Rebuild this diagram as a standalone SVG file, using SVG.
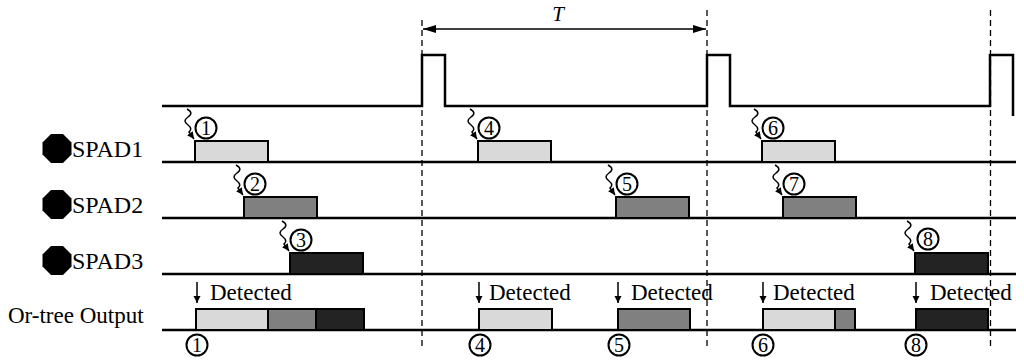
<svg xmlns="http://www.w3.org/2000/svg" xmlns:xlink="http://www.w3.org/1999/xlink" width="1024" height="362" viewBox="0 0 1024 362">
<style>
.ln{stroke:#000;stroke-width:2.5;fill:none}
.dash{stroke:#000;stroke-width:1.3;stroke-dasharray:6 4;fill:none}
.box{stroke:#000;stroke-width:2}
.l{fill:#d9d9d9}.m{fill:#808080}.d{fill:#232323}
.lbl{font-family:"Liberation Serif","Times New Roman",serif;font-size:23px;fill:#000}
.sp{font-size:24px}
.num{font-family:"Liberation Serif","Times New Roman",serif;font-size:20px;fill:#000;text-anchor:middle}
.cir{fill:#fff;stroke:#000;stroke-width:2}
.thin{stroke:#000;stroke-width:1.5;fill:none}
</style>
<defs>
<marker id="ah" markerWidth="8" markerHeight="8" refX="7" refY="4" orient="auto" markerUnits="userSpaceOnUse"><path d="M0,0.5 L7,4 L0,7.5 Z" fill="#000"/></marker>
<marker id="ahT" markerWidth="14" markerHeight="10" refX="13" refY="5" orient="auto-start-reverse" markerUnits="userSpaceOnUse"><path d="M0,1 L13,5 L0,9 Z" fill="#000"/></marker>
<path id="sq" d="M-8,-32 c5,3 5,5 1,8 c-4,3 -4,5 0,8 c4,3 3,5 1,7 L-1,-2" class="thin" marker-end="url(#ah)"/>
<polygon id="oct" points="6,14.5 -6,14.5 -14.5,6 -14.5,-6 -6,-14.5 6,-14.5 14.5,-6 14.5,6" fill="#000"/>
</defs>

<g id="clock">
<path class="ln" d="M162,106 H422 V55 H445 V106 H707 V55 H730 V106 H990 V55 H1013 V116"/>
</g>

<g id="period">
<line class="thin" x1="423" y1="29" x2="706" y2="29" marker-start="url(#ahT)" marker-end="url(#ahT)"/>
<text x="558" y="21" style="font-family:'Liberation Serif','Times New Roman',serif;font-size:21px;font-style:italic;text-anchor:middle">T</text>
</g>

<g id="baselines">
<line class="ln" x1="162" y1="162" x2="1016" y2="162"/>
<line class="ln" x1="162" y1="218" x2="1016" y2="218"/>
<line class="ln" x1="162" y1="274" x2="1016" y2="274"/>
<line class="ln" x1="162" y1="330" x2="1016" y2="330"/>
</g>

<g id="labels">
<g id="spad1-label"><use xlink:href="#oct" x="57" y="148.5"/><text class="lbl sp" x="72" y="157">SPAD1</text></g>
<g id="spad2-label"><use xlink:href="#oct" x="57" y="204.5"/><text class="lbl sp" x="72" y="213">SPAD2</text></g>
<g id="spad3-label"><use xlink:href="#oct" x="57" y="260.5"/><text class="lbl sp" x="72" y="269">SPAD3</text></g>
<g id="output-label"><text class="lbl" x="8" y="323">Or-tree Output</text></g>
</g>

<g id="spad1">
<rect class="box l" x="195" y="141" width="73" height="21"/>
<use xlink:href="#sq" x="195" y="141"/>
<circle class="cir" cx="206" cy="128" r="10.5"/><text class="num" x="206" y="135">1</text>
<rect class="box l" x="478" y="141" width="73" height="21"/>
<use xlink:href="#sq" x="478" y="141"/>
<circle class="cir" cx="489" cy="128" r="10.5"/><text class="num" x="489" y="135">4</text>
<rect class="box l" x="762" y="141" width="73" height="21"/>
<use xlink:href="#sq" x="762" y="141"/>
<circle class="cir" cx="773" cy="128" r="10.5"/><text class="num" x="773" y="135">6</text>
</g>

<g id="spad2">
<rect class="box m" x="244" y="197" width="73" height="21"/>
<use xlink:href="#sq" x="244" y="197"/>
<circle class="cir" cx="255" cy="184" r="10.5"/><text class="num" x="255" y="191">2</text>
<rect class="box m" x="616" y="197" width="73" height="21"/>
<use xlink:href="#sq" x="616" y="197"/>
<circle class="cir" cx="627" cy="184" r="10.5"/><text class="num" x="627" y="191">5</text>
<rect class="box m" x="783" y="197" width="73" height="21"/>
<use xlink:href="#sq" x="783" y="197"/>
<circle class="cir" cx="794" cy="184" r="10.5"/><text class="num" x="794" y="191">7</text>
</g>

<g id="spad3">
<rect class="box d" x="290" y="253" width="73" height="21"/>
<use xlink:href="#sq" x="290" y="253"/>
<circle class="cir" cx="301" cy="240" r="10.5"/><text class="num" x="301" y="247">3</text>
<rect class="box d" x="915" y="253" width="73" height="21"/>
<use xlink:href="#sq" x="915" y="253"/>
<circle class="cir" cx="928" cy="239" r="10.5"/><text class="num" x="928" y="246">8</text>
</g>

<g id="output">
<rect class="box l" x="196" y="309" width="72" height="21"/>
<rect class="box m" x="268" y="309" width="48" height="21"/>
<rect class="box d" x="316" y="309" width="48" height="21"/>
<rect class="box l" x="479" y="309" width="73" height="21"/>
<rect class="box m" x="618" y="309" width="72" height="21"/>
<rect class="box l" x="763" y="309" width="72" height="21"/>
<rect class="box m" x="835" y="309" width="20" height="21"/>
<rect class="box d" x="916" y="309" width="72" height="21"/>
</g>

<g id="detected">
<line class="thin" x1="197" y1="282" x2="197" y2="303" marker-end="url(#ah)"/>
<text class="lbl" x="210" y="300">Detected</text>
<line class="thin" x1="479" y1="282" x2="479" y2="303" marker-end="url(#ah)"/>
<text class="lbl" x="489" y="300">Detected</text>
<line class="thin" x1="618" y1="282" x2="618" y2="303" marker-end="url(#ah)"/>
<text class="lbl" x="631" y="300">Detected</text>
<line class="thin" x1="763" y1="282" x2="763" y2="303" marker-end="url(#ah)"/>
<text class="lbl" x="773" y="300">Detected</text>
<line class="thin" x1="916" y1="282" x2="916" y2="303" marker-end="url(#ah)"/>
<text class="lbl" x="930" y="300">Detected</text>
</g>

<g id="dashes">
<line class="dash" x1="422" y1="20" x2="422" y2="350"/>
<line class="dash" x1="707" y1="10" x2="707" y2="350"/>
<line class="dash" x1="990.5" y1="10" x2="990.5" y2="350"/>
</g>

<g id="output-marks">
<circle class="cir" cx="197" cy="345" r="10.5"/><text class="num" x="197" y="352">1</text>
<circle class="cir" cx="480" cy="345" r="10.5"/><text class="num" x="480" y="352">4</text>
<circle class="cir" cx="619" cy="345" r="10.5"/><text class="num" x="619" y="352">5</text>
<circle class="cir" cx="763" cy="345" r="10.5"/><text class="num" x="763" y="352">6</text>
<circle class="cir" cx="916" cy="345" r="10.5"/><text class="num" x="916" y="352">8</text>
</g>
</svg>
